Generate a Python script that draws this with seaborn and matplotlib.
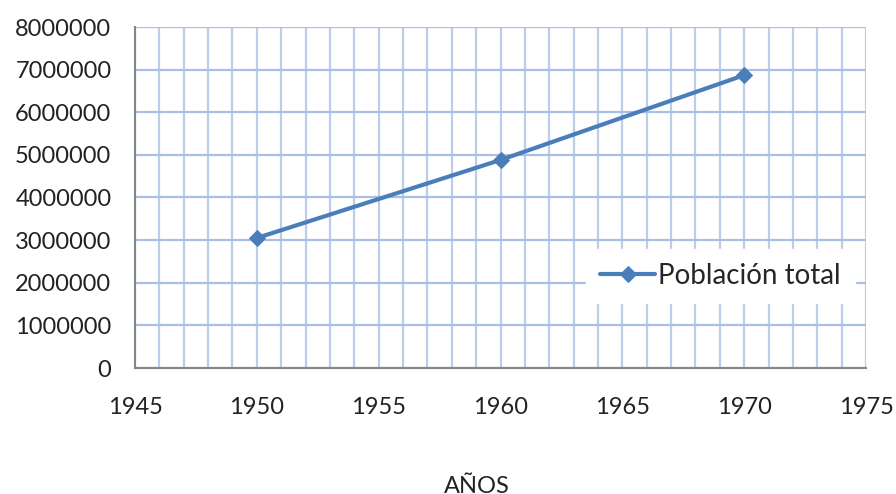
import numpy as np
import pandas as pd
import matplotlib
matplotlib.use("Agg")
import matplotlib.pyplot as plt
import seaborn as sns
from matplotlib.ticker import MultipleLocator

years = [1950, 1960, 1970]
population = [3050000, 4880000, 6870000]
series_name = "Población total"
x_label = "AÑOS"

df = pd.DataFrame({"year": years, "pop": population})

sns.set_style("white")
plt.rcParams["font.family"] = ["Lato", "DejaVu Sans"]

fig = plt.figure(figsize=(8.96, 4.94), dpi=100)
ax = fig.add_axes([135 / 896, 1 - 368 / 494, (866 - 135) / 896, (368 - 27) / 494])

sns.lineplot(data=df, x="year", y="pop", ax=ax, color="#4a7ebb", linewidth=3.0,
             marker="D", markersize=8, markeredgecolor="#4a7ebb", label=series_name)

ax.set_xlim(1945, 1975)
ax.set_ylim(0, 8000000)
ax.xaxis.set_major_locator(MultipleLocator(5))
ax.xaxis.set_minor_locator(MultipleLocator(1))
ax.yaxis.set_major_locator(MultipleLocator(1000000))
ax.ticklabel_format(style="plain", axis="y")

ax.grid(True, which="both", axis="x", color="#bccde9", linewidth=1.6)
ax.grid(True, which="major", axis="y", color="#a9bfe6", linewidth=1.6)
ax.set_axisbelow(True)

for s in ["top", "right"]:
    ax.spines[s].set_visible(False)
for s in ["left", "bottom"]:
    ax.spines[s].set_color("#868686")
    ax.spines[s].set_linewidth(1.5)

ax.tick_params(axis="both", which="major", direction="out", length=6, width=1.2,
               color="#868686", labelsize=17, labelcolor="#222222")
ax.tick_params(axis="both", which="minor", length=0)
ax.tick_params(axis="x", pad=15)
ax.tick_params(axis="y", pad=11)
ax.set_ylabel("")
ax.set_xlabel(x_label, fontsize=17, color="#222222")
ax.xaxis.set_label_coords(0.468, -0.318)

leg = ax.legend(loc="center left", bbox_to_anchor=(0.598, 0.27), frameon=True,
                fontsize=20, handlelength=2.0, handletextpad=0.1, borderpad=0.5)
leg.get_frame().set_facecolor("white")
leg.get_frame().set_edgecolor("white")
leg.get_frame().set_alpha(1)
leg.get_frame().set_boxstyle("square", pad=0.0)

fig.savefig("out.png", dpi=100)
